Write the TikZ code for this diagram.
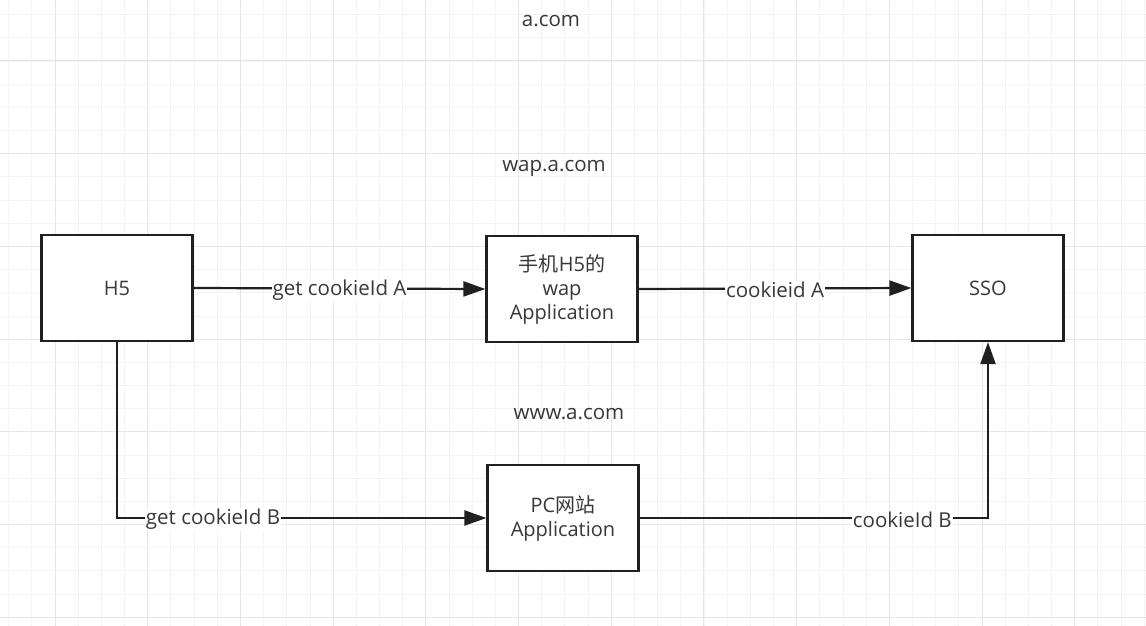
\documentclass[tikz,border=0pt]{standalone}
\usepackage{fontspec}
\setmainfont{Open Sans}
\newfontfamily\cjk{Noto Sans CJK SC}
\usetikzlibrary{arrows.meta}
\definecolor{txt}{HTML}{383838}
\definecolor{gmin}{HTML}{F3F3F3}
\definecolor{gmaj}{HTML}{E6E6E6}
\definecolor{ink}{HTML}{202020}
\begin{document}
\begin{tikzpicture}[x=1pt,y=-1pt,
  box/.style={draw=ink, line width=2.2pt, fill=white, minimum width=151pt, minimum height=106pt,
    align=center, text=txt, font=\fontsize{20}{24}\selectfont, inner sep=0pt},
  lbl/.style={fill=white, text=txt, inner sep=1pt, yshift=-1.5pt, font=\fontsize{20.5}{24}\selectfont},
  plain/.style={text=txt, font=\fontsize{20.5}{24}\selectfont},
  conn/.style={line width=2.2pt, draw=ink, -{Triangle[length=22pt,width=15pt]}},
  minorline/.style={draw=gmin, line width=0.8pt},
  majorline/.style={draw=gmaj, line width=1pt}]
\useasboundingbox (0,0) rectangle (1146,626);
\fill[white] (0,0) rectangle (1146,626);
\begin{scope}
\clip (0,0) rectangle (1146,626);
\foreach \i in {-3,...,48} {\draw[minorline] ({55+23.175*\i},0) -- ({55+23.175*\i},626);}
\foreach \i in {-3,...,25} {\draw[minorline] (0,{61+23.175*\i}) -- (1146,{61+23.175*\i});}
\foreach \i in {0,...,11} {\draw[majorline] ({55+92.7*\i},0) -- ({55+92.7*\i},626);}
\foreach \i in {0,...,6} {\draw[majorline] (0,{61+92.7*\i}) -- (1146,{61+92.7*\i});}
\end{scope}

\node[plain] (acom) at (551,21) {a.com};
\node[plain] (wapcom) at (554,168) {wap.a.com};
\node[plain] (wwwcom) at (569,414) {www.a.com};

\node[box] (h5) at (117,288) {H5};
\node[box] (wap) at (562,289) {{\cjk 手机}H5{\cjk 的}\\wap\\Application};
\node[box] (sso) at (988,288) {SSO};
\node[box] (pc) at (563,518) {PC{\cjk 网站}\\Application};

\draw[conn] (h5.east) -- node[lbl]{get cookieId A} (wap.west);
\draw[conn] (wap.east) -- node[lbl]{cookieid A} (sso.west);
\draw[conn] (h5.south) |- node[lbl,pos=0.63]{get cookieId B} (pc.west);
\draw[conn] (pc.east) -| node[lbl,pos=0.377]{cookieId B} (sso.south);
\end{tikzpicture}
\end{document}
